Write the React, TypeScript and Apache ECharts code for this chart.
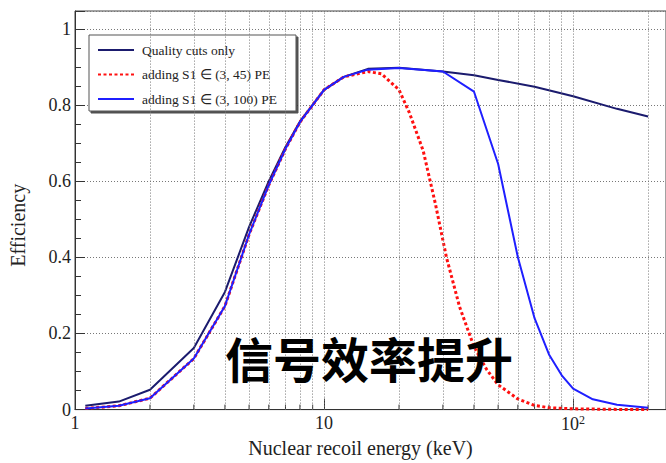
import React, { useEffect, useRef } from "react";
import * as echarts from "echarts";

const seriesNames = ["Quality cuts only", "adding S1 \u2208 (3, 45) PE", "adding S1 \u2208 (3, 100) PE"];

const energyQuality = [1.1, 1.5, 2, 3, 4, 5, 6, 7, 8, 10, 12, 15, 20, 30, 40, 50, 70, 100, 150, 200];
const effQuality = [0.01, 0.021, 0.052, 0.162, 0.309, 0.48, 0.6, 0.69, 0.757, 0.84, 0.874, 0.895, 0.898, 0.888, 0.878, 0.866, 0.848, 0.823, 0.79, 0.77];

const energyS1_45 = [1.1, 1.5, 2, 3, 4, 5, 6, 7, 8, 10, 12, 15, 17, 20, 22, 25, 28, 31, 35, 40, 45, 50, 60, 70, 80, 100, 150, 200];
const effS1_45 = [0.003, 0.01, 0.03, 0.134, 0.272, 0.46, 0.59, 0.685, 0.755, 0.84, 0.874, 0.888, 0.882, 0.84, 0.78, 0.68, 0.54, 0.4, 0.27, 0.165, 0.105, 0.065, 0.028, 0.011, 0.005, 0.002, 0.0005, 0];

const energyS1_100 = [1.1, 1.5, 2, 3, 4, 5, 6, 7, 8, 10, 12, 15, 20, 30, 40, 50, 60, 70, 80, 90, 100, 120, 150, 200];
const effS1_100 = [0.003, 0.01, 0.03, 0.134, 0.272, 0.46, 0.59, 0.685, 0.755, 0.84, 0.874, 0.893, 0.897, 0.888, 0.835, 0.645, 0.4, 0.24, 0.145, 0.09, 0.055, 0.027, 0.013, 0.005];

const xGridValues = [2, 3, 4, 5, 6, 7, 8, 9, 10, 20, 30, 40, 50, 60, 70, 80, 90, 100, 200];
const xMinorTicks = [2, 3, 4, 5, 6, 7, 8, 9, 20, 30, 40, 50, 60, 70, 80, 90, 200];

const annotation = "\u4fe1\u53f7\u6548\u7387\u63d0\u5347";
const xTitle = "Nuclear recoil energy (keV)";
const yTitle = "Efficiency";

const SERIF = "'Liberation Serif', 'Times New Roman', serif";

function zip(xs: number[], ys: number[]) {
  return xs.map((x, i) => [x, ys[i]]);
}

export default function App() {
  const ref = useRef<HTMLDivElement>(null);
  useEffect(() => {
    if (!ref.current) return;
    const chart = echarts.init(ref.current, null, { renderer: "svg" });
    const option: any = {
      animation: false,
      backgroundColor: "#ffffff",
      grid: {
        left: 75,
        top: 11,
        width: 600,
        height: 400,
        show: true,
        borderColor: "#444",
        borderWidth: 1,
        backgroundColor: "transparent",
      },
      legend: {
        orient: "vertical",
        left: 89,
        top: 35,
        data: seriesNames,
        itemWidth: 36,
        itemHeight: 14,
        itemGap: 10.5,
        padding: [8, 19, 5, 8],
        backgroundColor: "#ffffff",
        borderColor: "#555",
        borderWidth: 1,
        shadowColor: "rgba(50,50,50,0.85)",
        shadowOffsetX: 2,
        shadowOffsetY: 2,
        shadowBlur: 0,
        itemStyle: { color: "rgba(0,0,0,0)", borderWidth: 0, opacity: 0 },
        textStyle: { fontFamily: SERIF, fontSize: 13.5, color: "#222", padding: [0, 0, 0, 3] },
      },
      xAxis: {
        type: "log",
        logBase: 10,
        min: 1,
        max: 236,
        name: xTitle,
        nameLocation: "middle",
        nameGap: 28,
        nameTextStyle: { fontFamily: SERIF, fontSize: 20, color: "#222", padding: [0, 20, 0, 0] },
        axisLine: { show: true, lineStyle: { color: "#333", width: 1 } },
        axisTick: { show: true, inside: true, length: 11, lineStyle: { color: "#333" } },
        axisLabel: {
          fontFamily: SERIF,
          fontSize: 18,
          color: "#222",
          margin: 4,
          showMaxLabel: false,
          formatter: (v: number) => (Math.abs(v - 100) < 1e-6 ? "10{sup|2}" : String(Math.round(v))),
          rich: { sup: { fontFamily: SERIF, fontSize: 12, color: "#222", padding: [0, 0, 9, 0] } },
        },
        splitLine: { show: false },
      },
      yAxis: {
        type: "value",
        min: 0,
        max: 1.047,
        interval: 0.2,
        name: yTitle,
        nameLocation: "middle",
        nameGap: 47,
        nameRotate: 90,
        nameTextStyle: { fontFamily: SERIF, fontSize: 20, color: "#222", padding: [0, 30, 0, 0] },
        axisLine: { show: true, lineStyle: { color: "#333", width: 1 } },
        axisTick: { show: true, inside: true, length: 10, lineStyle: { color: "#333" } },
        minorTick: { show: true, splitNumber: 4, length: 6, lineStyle: { color: "#333" } },
        axisLabel: {
          fontFamily: SERIF,
          fontSize: 18,
          color: "#222",
          margin: 4,
          showMaxLabel: false,
        },
        splitLine: { show: true, lineStyle: { type: [1, 2], color: "#777", width: 1 } },
      },
      series: [
        {
          name: "ticks",
          type: "custom",
          z: 1,
          silent: true,
          data: xMinorTicks.map((v) => [v, 0]),
          encode: { x: 0, y: 1 },
          renderItem: (_params: any, api: any) => {
            const p = api.coord([api.value(0), 0]);
            return {
              type: "line",
              shape: { x1: p[0], y1: p[1], x2: p[0], y2: p[1] - 5 },
              style: { stroke: "#333", lineWidth: 1 },
            };
          },
          markLine: {
            silent: true,
            symbol: ["none", "none"],
            label: { show: false },
            lineStyle: { type: [1, 2], color: "#777", width: 1 },
            data: xGridValues.map((v) => ({ xAxis: v })),
          },
        },
        {
          name: seriesNames[0],
          type: "line",
          z: 3,
          symbol: "none",
          data: zip(energyQuality, effQuality),
          lineStyle: { color: "#1b1b6e", width: 2 },
          itemStyle: { color: "#1b1b6e" },
        },
        {
          name: seriesNames[1],
          type: "line",
          z: 4,
          symbol: "none",
          data: zip(energyS1_45, effS1_45),
          lineStyle: { color: "#ff1010", width: 3, type: [3, 2.5] },
          itemStyle: { color: "#ff1010" },
        },
        {
          name: seriesNames[2],
          type: "line",
          z: 5,
          symbol: "none",
          data: zip(energyS1_100, effS1_100),
          lineStyle: { color: "#1f1fff", width: 2 },
          itemStyle: { color: "#1f1fff" },
        },
      ],
      graphic: [
        {
          type: "text",
          z: 100,
          x: 369,
          y: 357,
          style: {
            text: annotation,
            fontFamily: "'Noto Sans CJK SC', sans-serif",
            fontSize: 48,
            fontWeight: "bold",
            fill: "#000",
            textAlign: "center",
            textVerticalAlign: "middle",
          },
        },
      ],
    };
    chart.setOption(option);
    return () => chart.dispose();
  }, []);
  return (
    <div
      ref={ref}
      style={{ position: "fixed", left: 0, top: 0, width: 666, height: 463, background: "#fff" }}
    />
  );
}
